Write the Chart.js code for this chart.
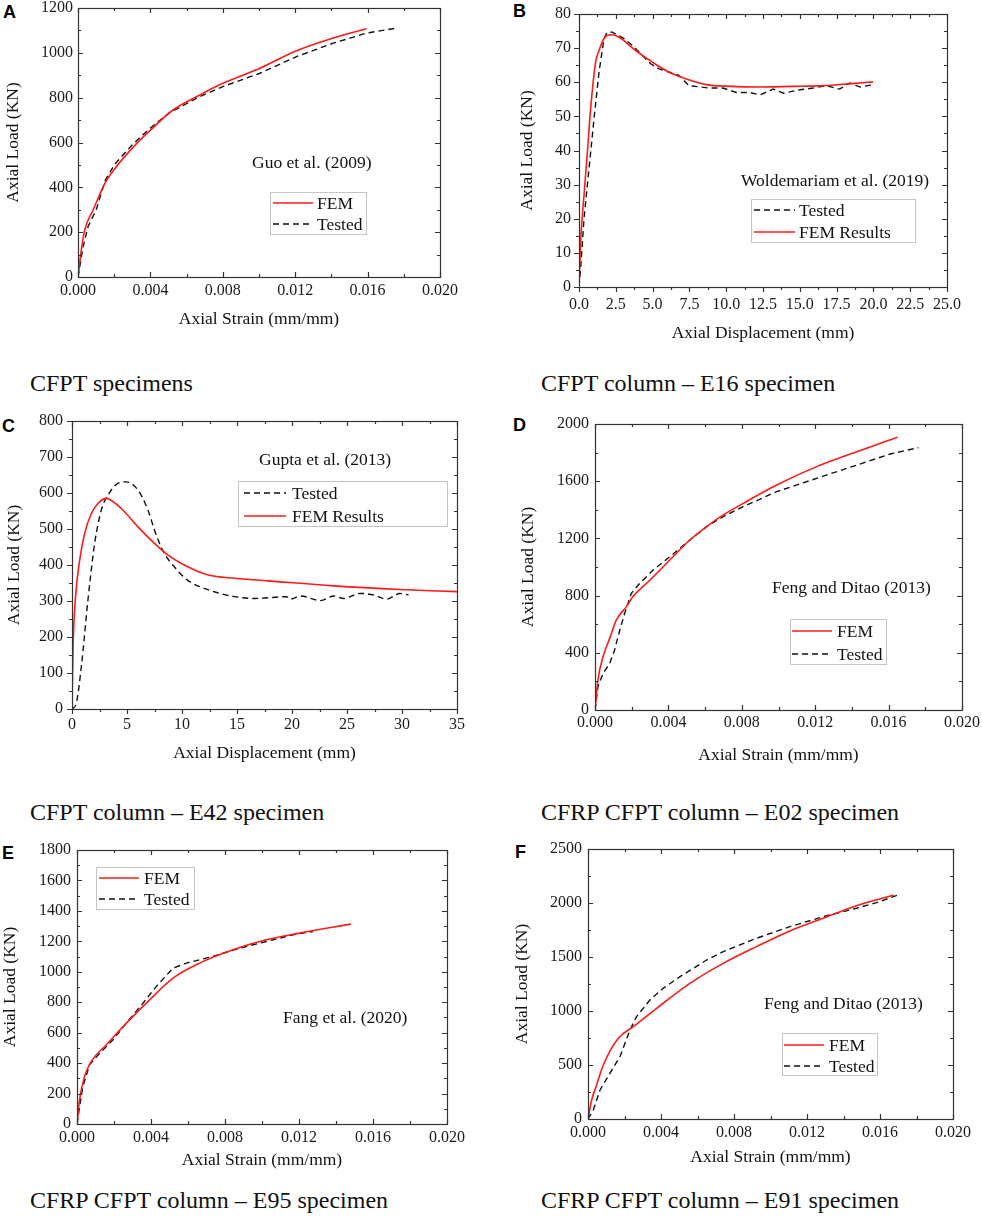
<!DOCTYPE html>
<html>
<head>
<meta charset="utf-8">
<script src="https://cdn.jsdelivr.net/npm/chart.js@4.4.1/dist/chart.umd.min.js"></script>
<style>
  html, body { margin: 0; padding: 0; background: #fff; }
  body { width: 982px; height: 1220px; position: relative; overflow: hidden; }
  canvas { position: absolute; }
  .letter { position: absolute; font-family: "Liberation Sans", Arial, sans-serif; font-weight: bold; font-size: 18px; line-height: 1; color: #000; }
  .caption { position: absolute; font-family: "Liberation Serif", "Times New Roman", serif; font-size: 24px; line-height: 1; color: #111; white-space: nowrap; }
</style>
</head>
<body>
<div class="letter" style="left:3px;top:3px">A</div>
<div class="letter" style="left:513px;top:2px">B</div>
<div class="letter" style="left:2px;top:417px">C</div>
<div class="letter" style="left:513px;top:416px">D</div>
<div class="letter" style="left:2px;top:844px">E</div>
<div class="letter" style="left:515px;top:843px">F</div>

<div class="caption" style="left:30px;top:371px">CFPT specimens</div>
<div class="caption" style="left:541px;top:371px">CFPT column – E16 specimen</div>
<div class="caption" style="left:30px;top:800px">CFPT column – E42 specimen</div>
<div class="caption" style="left:541px;top:800px">CFRP CFPT column – E02 specimen</div>
<div class="caption" style="left:30px;top:1188px">CFRP CFPT column – E95 specimen</div>
<div class="caption" style="left:541px;top:1188px">CFRP CFPT column – E91 specimen</div>

<script>
// --- dados ---
// A: Guo et al. (2009)
const xFemA = [0, 0.00018, 0.00037, 0.00083, 0.0015, 0.002, 0.003, 0.004, 0.00525, 0.00673, 0.008, 0.01005, 0.01198, 0.0141, 0.01594];
const yFemA = [0, 119, 209, 298, 420, 480, 575, 655, 745, 812, 864, 931, 1006, 1066, 1107];
const xTestA = [0, 0.00028, 0.00055, 0.001, 0.0015, 0.002, 0.003, 0.004, 0.005, 0.00673, 0.008, 0.01005, 0.0121, 0.0141, 0.01594, 0.0176];
const yTestA = [0, 134, 224, 298, 430, 500, 590, 665, 730, 805, 849, 909, 984, 1043, 1088, 1110];

// B: Woldemariam et al. (2019)
const xFemB = [0, 0.11, 0.34, 0.57, 0.79, 1.13, 1.36, 1.7, 2.15, 2.72, 3.85, 4.98, 6.1, 7.25, 8.65, 10.3, 12.05, 14.5, 16.6, 18.5, 19.97];
const yFemB = [0, 13.2, 26.9, 39.5, 52.2, 65.9, 69.3, 72.8, 73.9, 73.2, 69.3, 65.9, 63, 61, 59.3, 58.8, 58.6, 58.8, 59, 59.6, 60.1];
const xTestB = [0, 0.11, 0.34, 0.68, 1.02, 1.36, 1.7, 1.92, 2.26, 3.06, 3.62, 4.87, 5.43, 6.79, 7.47, 8.87, 9.78, 10.7, 11.6, 12.3, 13.2, 13.9, 15, 15.9, 16.8, 17.7, 18.4, 19.1, 20];
const yTestB = [0, 5.4, 20, 34.7, 49.3, 63, 72.8, 74.7, 74.7, 72.8, 70.8, 65.4, 63.9, 62, 59, 58.3, 58.3, 57, 57, 56.3, 58, 56.8, 57.8, 58.3, 59, 58, 59.8, 58.6, 59.3];

// C: Gupta et al. (2013)
const xFemC = [0, 0.09, 0.3, 0.7, 1.15, 1.76, 2.36, 3.12, 3.42, 4.48, 6, 7.5, 8.7, 10.2, 12.4, 14.8, 17.8, 23.8, 29.8, 35];
const yFemC = [0, 164, 303, 414, 488, 543, 571, 585, 582, 557, 506, 460, 428, 400, 372, 363, 356, 342, 332, 326];
const xTestC = [0, 0.39, 0.85, 1.45, 2.06, 2.67, 3.27, 4.18, 4.94, 6, 6.9, 7.6, 8.4, 9.3, 10.5, 12.4, 14.8, 16.6, 19.5, 19.8, 20.8, 22.6, 23.8, 24.7, 26.2, 27.4, 28.6, 29.8, 30.6];
const yTestC = [0, 16, 118, 303, 460, 553, 594, 627, 631, 608, 553, 488, 432, 395, 358, 331, 312, 307, 312, 305, 314, 301, 314, 307, 321, 317, 305, 321, 317];

// D: Feng and Ditao (2013)
const xFemD = [0, 0.00016, 0.00044, 0.0008, 0.00116, 0.00171, 0.00207, 0.003, 0.00408, 0.00517, 0.00608, 0.00699, 0.00808, 0.0099, 0.01208, 0.01427, 0.01649];
const yFemD = [0, 210, 373, 501, 629, 723, 793, 909, 1049, 1189, 1282, 1364, 1445, 1573, 1702, 1806, 1907];
const xTestD = [0, 0.00016, 0.00044, 0.0008, 0.00107, 0.00135, 0.00162, 0.00198, 0.00244, 0.00317, 0.00408, 0.00517, 0.00608, 0.00699, 0.00808, 0.0099, 0.01245, 0.01427, 0.01609, 0.01763];
const yTestD = [0, 163, 256, 326, 420, 559, 676, 816, 886, 979, 1072, 1189, 1282, 1352, 1422, 1527, 1636, 1713, 1790, 1835];

// E: Fang et al. (2020)
const xFemE = [0, 0.00014, 0.00041, 0.00077, 0.00159, 0.00267, 0.00402, 0.00519, 0.00663, 0.00843, 0.01023, 0.01204, 0.0148];
const yFemE = [0, 160, 313, 411, 521, 663, 827, 958, 1057, 1144, 1210, 1254, 1313];
const xTestE = [0, 0.00014, 0.00032, 0.00068, 0.00123, 0.00195, 0.00267, 0.00357, 0.00429, 0.00519, 0.00591, 0.00735, 0.00879, 0.01023, 0.01168, 0.01276];
const yTestE = [0, 116, 247, 390, 466, 554, 663, 794, 904, 1024, 1057, 1101, 1155, 1199, 1243, 1265];

// F: Feng and Ditao (2013)
const xFemF = [0, 0.0002, 0.00044, 0.00084, 0.00166, 0.00248, 0.00376, 0.00558, 0.00741, 0.00923, 0.01106, 0.01288, 0.01471, 0.01675];
const yFemF = [0, 176, 299, 500, 747, 855, 1025, 1256, 1441, 1596, 1741, 1858, 1975, 2074];
const xTestF = [0, 0.00029, 0.00066, 0.0012, 0.00175, 0.0023, 0.00266, 0.00339, 0.00412, 0.00504, 0.0065, 0.00741, 0.00923, 0.01106, 0.01288, 0.01471, 0.01581, 0.01699];
const yTestF = [0, 83, 269, 423, 577, 824, 948, 1102, 1210, 1318, 1472, 1549, 1673, 1781, 1873, 1951, 2003, 2074];

// marcas dos eixos
const xTicksStrain = [0, 0.004, 0.008, 0.012, 0.016, 0.020];
const xTicksB = [0, 2.5, 5, 7.5, 10, 12.5, 15, 17.5, 20, 22.5, 25];
const xTicksC = [0, 5, 10, 15, 20, 25, 30, 35];
const yTicksA = [0, 200, 400, 600, 800, 1000, 1200];
const yTicksB = [0, 10, 20, 30, 40, 50, 60, 70, 80];
const yTicksC = [0, 100, 200, 300, 400, 500, 600, 700, 800];
const yTicksD = [0, 400, 800, 1200, 1600, 2000];
const yTicksE = [0, 200, 400, 600, 800, 1000, 1200, 1400, 1600, 1800];
const yTicksF = [0, 500, 1000, 1500, 2000, 2500];

const SERIF = '"Liberation Serif", "Times New Roman", serif';
const YW = 80, XH = 60, PT = 12, PR = 32;

// moldura com marcas internas/externas (estilo Origin)
const frame = {
    id: 'frame',
    afterDatasetsDraw(chart, args, o) {
        const { ctx, chartArea: a, scales: { x, y } } = chart;
        const out = o.dir === 'out' ? -1 : 1;
        ctx.save();
        ctx.strokeStyle = '#333';
        ctx.lineWidth = 1.2;
        ctx.strokeRect(Math.round(a.left) + 0.5, Math.round(a.top) + 0.5, Math.round(a.right - a.left), Math.round(a.bottom - a.top));
        const mids = (vals) => vals.slice(1).map((v, i) => (v + vals[i]) / 2);
        const xs = x.ticks.map(t => t.value), ys = y.ticks.map(t => t.value);
        ctx.beginPath();
        [[xs, 5], [mids(xs), 3]].forEach(([vals, len]) => {
            vals.forEach(v => {
                const px = Math.round(x.getPixelForValue(v)) + 0.5;
                ctx.moveTo(px, a.bottom); ctx.lineTo(px, a.bottom - out * len);
                ctx.moveTo(px, a.top); ctx.lineTo(px, a.top + len);
            });
        });
        [[ys, 5], [mids(ys), 3]].forEach(([vals, len]) => {
            vals.forEach(v => {
                const py = Math.round(y.getPixelForValue(v)) + 0.5;
                ctx.moveTo(a.left, py); ctx.lineTo(a.left + out * len, py);
                ctx.moveTo(a.right, py); ctx.lineTo(a.right - len, py);
            });
        });
        ctx.stroke();
        ctx.restore();
    }
};

// legenda em caixa, posicionada dentro da área do gráfico
const boxLegend = {
    id: 'boxLegend',
    afterDraw(chart, args, o) {
        const { ctx, chartArea: a } = chart;
        const x0 = Math.round(a.left + o.x), y0 = Math.round(a.top + o.y);
        ctx.save();
        ctx.strokeStyle = '#c4c4c4';
        ctx.lineWidth = 1;
        ctx.strokeRect(x0 + 0.5, y0 + 0.5, o.w, o.h);
        ctx.font = '17.5px ' + SERIF;
        ctx.textBaseline = 'middle';
        o.rows.forEach((idx, i) => {
            const ds = chart.data.datasets[idx];
            const cy = y0 + o.first + i * o.gap;
            ctx.strokeStyle = ds.borderColor;
            ctx.lineWidth = ds.borderWidth;
            ctx.setLineDash(ds.borderDash || []);
            ctx.beginPath();
            ctx.moveTo(x0 + o.lineX, cy);
            ctx.lineTo(x0 + o.lineX + o.lineLen, cy);
            ctx.stroke();
            ctx.setLineDash([]);
            ctx.fillStyle = '#111';
            ctx.fillText(ds.label, x0 + o.textX, cy + 1);
        });
        ctx.restore();
    }
};

// texto da referência dentro do gráfico
const note = {
    id: 'note',
    afterDraw(chart, args, o) {
        const { ctx, chartArea: a } = chart;
        ctx.save();
        ctx.font = '17.5px ' + SERIF;
        ctx.fillStyle = '#111';
        ctx.textBaseline = 'middle';
        ctx.fillText(o.text, a.left + o.x, a.top + o.y);
        ctx.restore();
    }
};

const pts = (xs, ys) => xs.map((x, i) => ({ x: x, y: ys[i] }));

const femDs = (xs, ys, label) => ({
    label: label, data: pts(xs, ys), showLine: true, borderColor: '#ff1a1a',
    borderWidth: 1.6, pointRadius: 0, cubicInterpolationMode: 'monotone'
});
const testDs = (xs, ys, smooth) => ({
    label: 'Tested', data: pts(xs, ys), showLine: true, borderColor: '#111',
    borderWidth: 1.4, borderDash: [6, 4], pointRadius: 0,
    cubicInterpolationMode: smooth ? 'monotone' : 'default', tension: 0
});

const panels = [
    { plot: [78, 8, 440, 277], xt: xTicksStrain, yt: yTicksA, xDec: 3, xTitle: 'Axial Strain (mm/mm)',
      datasets: [femDs(xFemA, yFemA, 'FEM'), testDs(xTestA, yTestA)], dir: 'in',
      xPad: 4.4, yPad: 5, xTitlePad: 7.5, yTitlePad: 4.5,
      legend: { x: 192, y: 184, w: 96, h: 42, first: 11, gap: 21, lineX: 3, lineLen: 40, textX: 47, rows: [0, 1] },
      note: { text: 'Guo et al. (2009)', x: 174, y: 155 } },
    { plot: [579, 14, 947, 287], xt: xTicksB, yt: yTicksB, xDec: 1, xTitle: 'Axial Displacement (mm)',
      datasets: [femDs(xFemB, yFemB, 'FEM Results'), testDs(xTestB, yTestB)], dir: 'out',
      xPad: 8.4, yPad: 8, xTitlePad: 3.5, yTitlePad: 17.5,
      legend: { x: 172, y: 185, w: 164, h: 43, first: 11, gap: 22, lineX: 3, lineLen: 41, textX: 48, rows: [1, 0] },
      note: { text: 'Woldemariam et al. (2019)', x: 162, y: 167 } },
    { plot: [72, 421, 457, 709], xt: xTicksC, yt: yTicksC, xDec: 0, xTitle: 'Axial Displacement (mm)',
      datasets: [femDs(xFemC, yFemC, 'FEM Results'), testDs(xTestC, yTestC, true)], dir: 'out',
      xPad: 6.4, yPad: 9, xTitlePad: 5.5, yTitlePad: 11.5,
      legend: { x: 166, y: 60, w: 209, h: 45, first: 12, gap: 23, lineX: 6, lineLen: 42, textX: 54, rows: [1, 0] },
      note: { text: 'Gupta et al. (2013)', x: 187, y: 39 } },
    { plot: [595, 424, 962, 710], xt: xTicksStrain, yt: yTicksD, xDec: 3, xTitle: 'Axial Strain (mm/mm)',
      datasets: [femDs(xFemD, yFemD, 'FEM'), testDs(xTestD, yTestD)], dir: 'in',
      xPad: 3.4, yPad: 6, xTitlePad: 4.5, yTitlePad: 2.5,
      legend: { x: 195, y: 195, w: 96, h: 45, first: 12, gap: 23, lineX: 2, lineLen: 40, textX: 47, rows: [0, 1] },
      note: { text: 'Feng and Ditao (2013)', x: 177, y: 164 } },
    { plot: [77, 850, 447, 1124], xt: xTicksStrain, yt: yTicksE, xDec: 3, xTitle: 'Axial Strain (mm/mm)',
      datasets: [femDs(xFemE, yFemE, 'FEM'), testDs(xTestE, yTestE)], dir: 'in',
      xPad: 4.4, yPad: 6, xTitlePad: 13.5, yTitlePad: 2.5,
      legend: { x: 19, y: 17, w: 98, h: 42, first: 11, gap: 21, lineX: 3, lineLen: 40, textX: 48, rows: [0, 1] },
      note: { text: 'Fang et al. (2020)', x: 206, y: 168 } },
    { plot: [588, 849, 953, 1119], xt: xTicksStrain, yt: yTicksF, xDec: 3, xTitle: 'Axial Strain (mm/mm)',
      datasets: [femDs(xFemF, yFemF, 'FEM'), testDs(xTestF, yTestF)], dir: 'in',
      xPad: 4.4, yPad: 6, xTitlePad: 11.5, yTitlePad: 3.5,
      legend: { x: 194, y: 184, w: 95, h: 42, first: 12, gap: 21, lineX: 2, lineLen: 40, textX: 47, rows: [0, 1] },
      note: { text: 'Feng and Ditao (2013)', x: 176, y: 155 } }
];

function makePanel(p) {
    const [L, T, R, B] = p.plot;
    const W = R - L + YW + PR, H = B - T + PT + XH;
    const cv = document.createElement('canvas');
    cv.width = W; cv.height = H;
    cv.style.left = (L - YW) + 'px';
    cv.style.top = (T - PT) + 'px';
    cv.style.width = W + 'px';
    cv.style.height = H + 'px';
    document.body.appendChild(cv);

    const tickFont = { family: SERIF, size: 16 };
    const titleFont = { family: SERIF, size: 17.5 };

    new Chart(cv, {
        type: 'scatter',
        data: { datasets: p.datasets },
        options: {
            responsive: false,
            animation: false,
            events: [],
            layout: { padding: { left: 0, top: PT, right: PR, bottom: 0 } },
            scales: {
                x: {
                    type: 'linear', min: p.xt[0], max: p.xt[p.xt.length - 1],
                    afterBuildTicks: s => { s.ticks = p.xt.map(v => ({ value: v })); },
                    afterFit: s => { s.height = XH; s.paddingLeft = 0; s.paddingRight = 0; },
                    grid: { display: false, drawTicks: false },
                    border: { display: false },
                    ticks: { padding: p.xPad, color: '#1a1a1a', font: tickFont, maxRotation: 0, autoSkip: false,
                             callback: v => Number(v).toFixed(p.xDec) },
                    title: { display: true, text: p.xTitle, color: '#111', font: titleFont,
                             padding: { top: 0, bottom: p.xTitlePad } }
                },
                y: {
                    type: 'linear', min: p.yt[0], max: p.yt[p.yt.length - 1],
                    afterBuildTicks: s => { s.ticks = p.yt.map(v => ({ value: v })); },
                    afterFit: s => { s.width = YW; s.paddingTop = 0; s.paddingBottom = 0; },
                    grid: { display: false, drawTicks: false },
                    border: { display: false },
                    ticks: { padding: p.yPad, color: '#1a1a1a', font: tickFont, autoSkip: false,
                             callback: v => String(v) },
                    title: { display: true, text: 'Axial Load (KN)', color: '#111', font: titleFont,
                             padding: { top: p.yTitlePad, bottom: 0 } }
                }
            },
            plugins: {
                legend: { display: false },
                tooltip: { enabled: false },
                frame: { dir: p.dir },
                boxLegend: p.legend,
                note: p.note
            }
        },
        plugins: [frame, boxLegend, note]
    });
}

panels.forEach(makePanel);
</script>
</body>
</html>
